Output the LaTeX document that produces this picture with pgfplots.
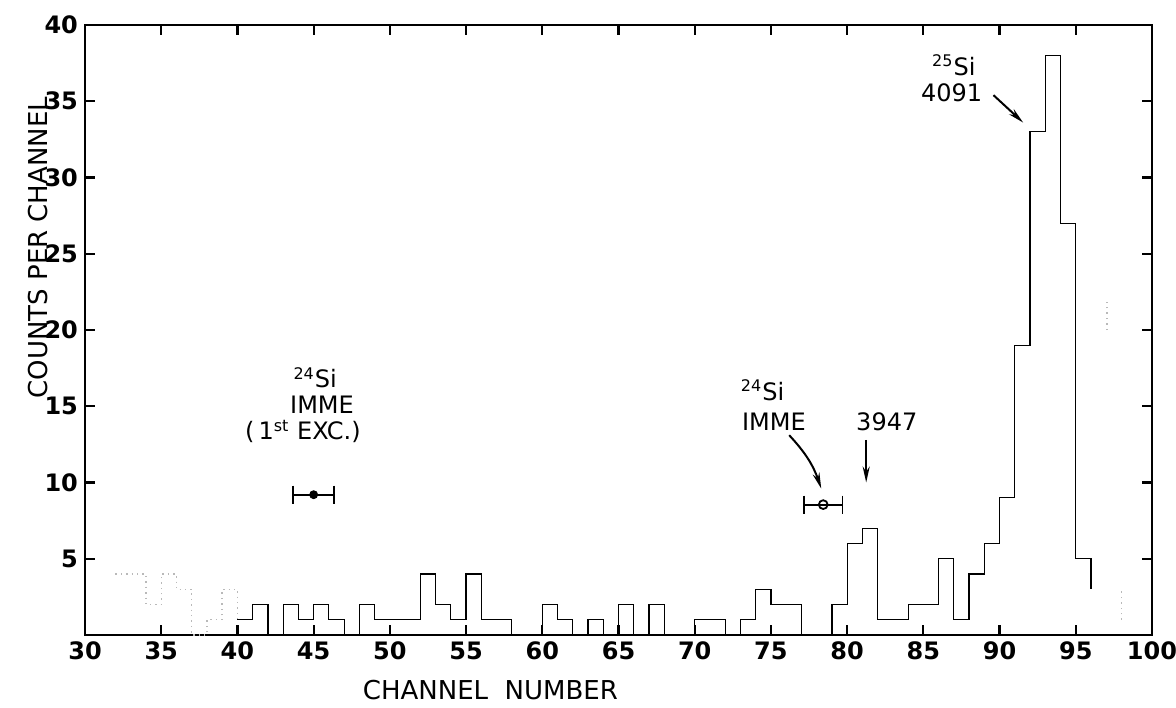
\documentclass[border=0pt]{standalone}
\usepackage{fontspec}
\setmainfont{DejaVu Sans}
\usepackage{pgfplots}
\pgfplotsset{compat=1.18}
\usetikzlibrary{arrows.meta}
\newcommand{\ann}{\fontsize{12}{12}\selectfont}
\begin{document}
\begin{tikzpicture}
\useasboundingbox (-42.5pt,-36pt) rectangle (545.5pt,317.5pt);
\begin{axis}[
  scale only axis, width=533.5pt, height=305pt,
  xmin=30, xmax=100, ymin=0, ymax=40,
  xtick={30,35,...,100}, ytick={5,10,...,40},
  tick align=inside, major tick length=5pt,
  axis line style={line width=1.2pt},
  every tick/.style={black, line width=1.1pt},
  tick label style={font=\fontsize{12}{12}\selectfont\bfseries},
  /pgf/number format/assume math mode=true,
  xlabel={CHANNEL\ \ NUMBER}, ylabel={COUNTS PER CHANNEL},
  every axis x label/.style={at={(axis description cs:0.38,0)}, anchor=center, yshift=-27.5pt, font=\fontsize{13}{13}\selectfont},
  every axis y label/.style={at={(axis description cs:-0.0441,0.635)}, anchor=center, rotate=90, font=\fontsize{13}{13}\selectfont},
  clip=false,
]
% faint (poorly reproduced) part of the spectrum
\addplot[const plot, gray!55, dotted, line width=0.7pt] coordinates {(32,4) (34,2) (35,4) (36,3) (37,0) (38,1) (39,3) (40,1)};
\addplot[gray!55, dotted, line width=0.7pt] coordinates {(97.05,20) (97.05,22)};
\addplot[gray!55, dotted, line width=0.7pt] coordinates {(98,1) (98,3)};
% main histogram
\addplot[const plot, black, line width=0.6pt] coordinates {
(40,1) (41,2) (42,0) (43,2) (44,1) (45,2) (46,1) (47,0) (48,2) (49,1) (52,4) (53,2) (54,1) (55,4) (56,1) (58,0)
(60,2) (61,1) (62,0) (63,1) (64,0) (65,2) (66,0) (67,2) (68,0) (70,1) (72,0) (73,1) (74,3) (75,2) (77,0) (79,2)
(80,6) (81,7) (82,1) (84,2) (86,5) (87,1) (88,4) (89,6) (90,9) (91,19) (92,33) (93,38) (94,27) (95,5) (96,3)};
% error bars
\addplot[black, line width=0.9pt, mark=|, mark size=4.5pt, mark options={line width=0.9pt}] coordinates {(43.65,9.2) (46.35,9.2)};
\addplot[black, only marks, mark=*, mark size=2pt] coordinates {(45,9.2)};
\addplot[black, line width=0.9pt, mark=|, mark size=4.5pt, mark options={line width=0.9pt}] coordinates {(77.15,8.55) (79.7,8.55)};
\addplot[black, only marks, mark=o, mark size=2.2pt, mark options={fill=white, line width=0.9pt}] coordinates {(78.43,8.55)};
% annotations
\draw[line width=1pt, -{Stealth[length=8pt,width=3.5pt]}] (axis cs:89.6,35.4) -- (axis cs:91.55,33.6);
\draw[line width=1pt, -{Stealth[length=8pt,width=3.5pt]}] (axis cs:81.25,12.8) -- (axis cs:81.25,10.0);
\draw[line width=1pt, -{Stealth[length=8pt,width=3.5pt]}] (axis cs:76.2,13.1) to[bend left=12] (axis cs:78.3,9.6);
\node[anchor=base, font=\ann] at (axis cs:87.0,36.7) {\textsuperscript{25}Si};
\node[anchor=base, font=\ann] at (axis cs:86.86,35.0) {4091};
\node[anchor=base, font=\ann] at (axis cs:82.6,13.4) {3947};
\node[anchor=base, font=\ann] at (axis cs:74.45,15.4) {\textsuperscript{24}Si};
\node[anchor=base, font=\ann] at (axis cs:75.2,13.4) {IMME};
\node[anchor=base, font=\ann] at (axis cs:45.1,16.2) {\textsuperscript{24}Si};
\node[anchor=base, font=\ann] at (axis cs:45.55,14.5) {IMME};
\node[anchor=base, font=\ann] at (axis cs:44.3,12.8) {(\,1\textsuperscript{st} EXC.)};
\end{axis}
\end{tikzpicture}
\end{document}
